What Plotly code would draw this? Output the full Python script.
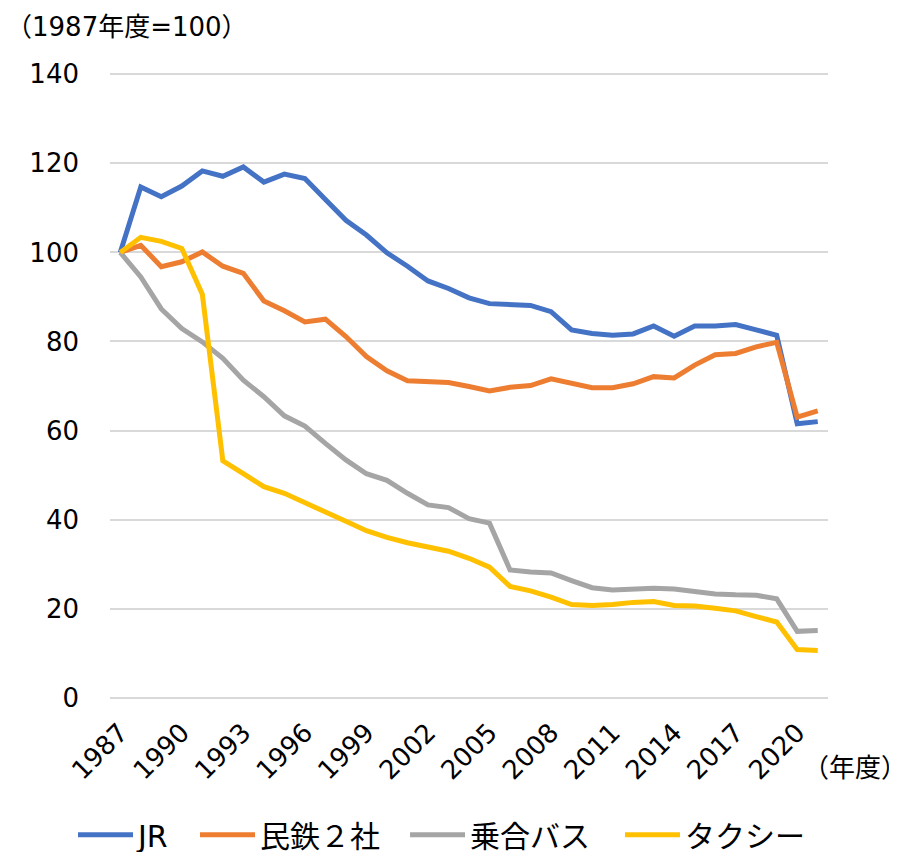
import plotly.graph_objects as go

years = list(range(1987, 2022))
jr = [100, 114.7, 112.5, 114.9, 118.3, 117.1, 119.2, 115.8, 117.6, 116.6, 111.9, 107.2, 103.9, 99.9, 96.9, 93.6, 91.9, 89.8,
      88.5, 88.3, 88.1, 86.7, 82.6, 81.8, 81.4, 81.7, 83.5, 81.2, 83.5, 83.5, 83.8, 82.6, 81.4, 61.5, 62.0]
mintetsu = [100, 101.6, 96.8, 97.9, 100.1, 96.9, 95.3, 89.1, 86.9, 84.4, 85.0, 81.1, 76.6, 73.4, 71.2, 71.0, 70.8, 69.9,
            68.9, 69.7, 70.1, 71.6, 70.5, 69.6, 69.6, 70.5, 72.1, 71.8, 74.7, 77.0, 77.3, 78.8, 79.8, 63.0, 64.4]
bus = [100, 94.5, 87.3, 82.9, 79.9, 76.2, 71.3, 67.6, 63.3, 61.0, 57.1, 53.4, 50.3, 48.8, 45.9, 43.3, 42.7, 40.2,
       39.2, 28.7, 28.2, 28.0, 26.3, 24.7, 24.2, 24.4, 24.6, 24.4, 23.8, 23.3, 23.1, 23.0, 22.2, 14.9, 15.1]
taxi = [100, 103.4, 102.5, 100.9, 90.6, 53.2, 50.3, 47.4, 45.9, 43.7, 41.6, 39.6, 37.5, 36.0, 34.8, 33.8, 32.9, 31.3,
        29.3, 25.0, 24.0, 22.6, 20.9, 20.7, 20.9, 21.4, 21.6, 20.7, 20.6, 20.1, 19.5, 18.2, 17.0, 10.8, 10.6]

series_names = ["JR", "民鉄２社", "乗合バス", "タクシー"]
series_values = [jr, mintetsu, bus, taxi]
colors = ["#4472C4", "#ED7D31", "#A5A5A5", "#FFC000"]

x_tick_vals = list(range(1987, 2022, 3))
y_tick_vals = [0, 20, 40, 60, 80, 100, 120, 140]

FONT = "DejaVu Sans, Noto Sans CJK JP, sans-serif"
legend_ids = ["legend", "legend2", "legend3", "legend4"]
legend_x = [-0.0515, 0.1184, 0.4109, 0.7103]

fig = go.Figure()
for name, vals, c, lid in zip(series_names, series_values, colors, legend_ids):
    fig.add_trace(go.Scatter(x=years, y=vals, mode="lines", name=name, legend=lid,
                             line=dict(color=c, width=5)))

legend_layouts = {}
for lid, lx in zip(legend_ids, legend_x):
    legend_layouts[lid] = dict(orientation="h", x=lx, xanchor="left", y=-0.217, yanchor="middle",
                               font=dict(size=30, family=FONT), itemwidth=55,
                               bgcolor="rgba(0,0,0,0)")

fig.update_layout(
    width=889, height=844,
    margin=dict(l=102, r=69, t=65, b=153, autoexpand=False),
    paper_bgcolor="white", plot_bgcolor="white",
    font=dict(family=FONT, size=26, color="#000000"),
    showlegend=True,
    xaxis=dict(range=[1986.5, 2021.5], tickmode="array", tickvals=x_tick_vals,
               ticktext=[str(v) for v in x_tick_vals], tickangle=-45, showgrid=False,
               zeroline=False, showline=False, ticks="", tickfont=dict(size=26),
               automargin=False, ticklabelstandoff=12),
    yaxis=dict(range=[-0.3, 140.3], tickmode="array", tickvals=y_tick_vals, showgrid=True,
               gridcolor="#D9D9D9", gridwidth=1.5, zeroline=False, showline=False, ticks="",
               tickfont=dict(size=26), ticklabelstandoff=30, automargin=False),
    annotations=[
        dict(text="（1987年度=100）", xref="paper", yref="paper", x=-0.148, y=1.0737,
             xanchor="left", yanchor="middle", showarrow=False, font=dict(size=26, family=FONT)),
        dict(text="（年度）", xref="paper", yref="paper", x=1.113, y=-0.1106,
             xanchor="right", yanchor="middle", showarrow=False, font=dict(size=26, family=FONT)),
    ],
    **legend_layouts,
)

fig.write_html("out.html")
